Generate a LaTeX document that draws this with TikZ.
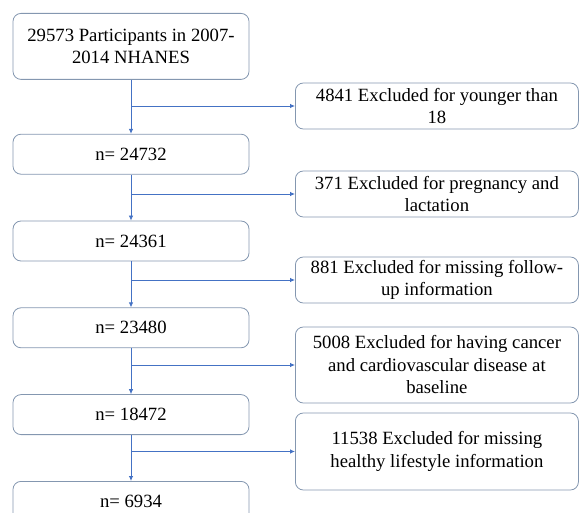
\documentclass[tikz,border=0pt]{standalone}
\usepackage{fontspec}
\setmainfont{Liberation Serif}
\usetikzlibrary{positioning, arrows.meta}
\definecolor{boxline}{HTML}{8497B0}
\definecolor{arrowblue}{HTML}{4472C4}

\begin{document}
\begin{tikzpicture}[
        basic/.style = {draw=boxline, line width=0.8pt, rounded corners=8pt, rectangle, align=center,
                        font=\fontsize{18.7}{22.5}\selectfont, inner sep=2pt},
        count/.style = {basic, minimum width=236pt, minimum height=40pt},
        excl/.style  = {basic, minimum width=283pt, anchor=west},
        node distance=46pt, >={Latex[length=5pt,width=4.5pt]}]

    \useasboundingbox (0,0) rectangle (579pt,-513pt);

    % main column, relatively positioned nodes
    \node[count, minimum height=66pt, anchor=north] (n0) at (131pt,-13pt) {29573 Participants in 2007-\\2014 NHANES};
    \node[count, below=54pt of n0] (n1) {n= 24732};
    \node[count, below=of n1] (n2) {n= 24361};
    \node[count, below=of n2] (n3) {n= 23480};
    \node[count, below=of n3] (n4) {n= 18472};
    \node[count, below=of n4] (n5) {n= 6934};

    % exclusion boxes on the right
    \node[excl, minimum height=46pt] (e1) at (295pt,-106pt) {4841 Excluded for younger than\\18};
    \node[excl, minimum height=46pt] (e2) at (295pt,-194pt) {371 Excluded for pregnancy and\\lactation};
    \node[excl, minimum height=46pt] (e3) at (295pt,-280pt) {881 Excluded for missing follow-\\up information};
    \node[excl, minimum height=76pt] (e4) at (295pt,-365pt) {5008 Excluded for having cancer\\and cardiovascular disease at\\baseline};
    \node[excl, minimum height=77pt] (e5) at (295pt,-451.5pt) {11538 Excluded for missing\\healthy lifestyle information};

    % arrows down the main column
    \foreach \i/\j in {0/1,1/2,2/3,3/4,4/5}
        \draw[->, arrowblue, line width=0.8pt] (n\i) -- (n\j);

    % arrows to every exclusion box
    \foreach \value in {1,...,5}
        \draw[->, arrowblue, line width=0.8pt] (n0.south |- e\value.west) -- (e\value.west);

\end{tikzpicture}
\end{document}
